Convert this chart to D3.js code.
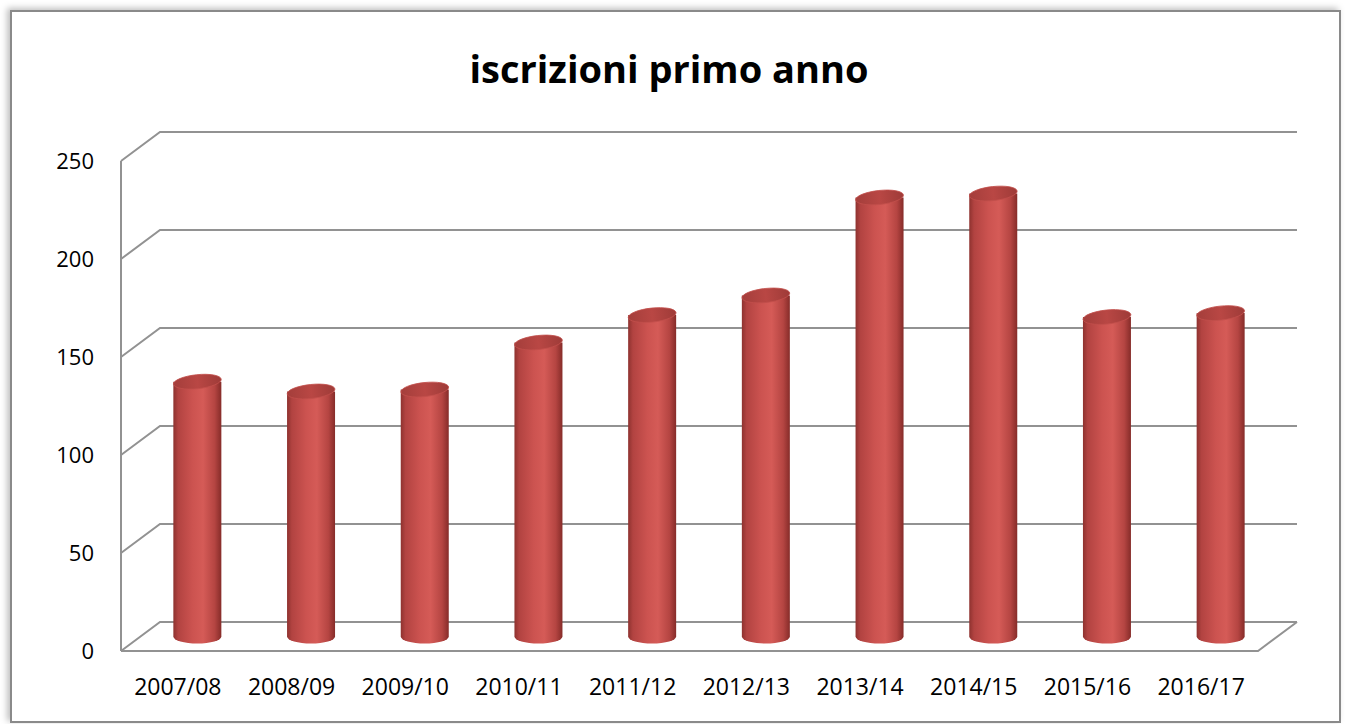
<!DOCTYPE html>
<html>
<head>
<meta charset="utf-8">
<script src="https://cdn.jsdelivr.net/npm/d3@7"></script>
<style>
  html, body { margin: 0; padding: 0; background: #fff; }
  svg { display: block; }
</style>
</head>
<body>
<svg id="chart" width="1346" height="724"></svg>
<script>
// ── Data ─────────────────────────────────────────────────────────────────────
const years  = ['2007/08', '2008/09', '2009/10', '2010/11', '2011/12',
                '2012/13', '2013/14', '2014/15', '2015/16', '2016/17'];
const values = [130, 125, 126, 150, 164, 174, 224, 226, 163, 165];
const yTicks = [0, 50, 100, 150, 200, 250];
const title  = 'iscrizioni primo anno';

// ── Layout ───────────────────────────────────────────────────────────────────
const FONT = '"Open Sans", sans-serif';
const depth = { dx: 39, dy: -29 };          // offset front -> back wall
const front = { left: 121, right: 1258, top: 161, bottom: 651 };
const barW = 48;
const gridColor = '#929292';

const svg = d3.select('#chart');
const defs = svg.append('defs');

// soft frame shadow
const sh = defs.append('filter').attr('id', 'shadow')
  .attr('x', '-5%').attr('y', '-5%').attr('width', '110%').attr('height', '110%');
sh.append('feDropShadow').attr('dx', -3).attr('dy', -2)
  .attr('stdDeviation', 3).attr('flood-color', '#000').attr('flood-opacity', 0.25);

// cylinder side gradient
const side = defs.append('linearGradient').attr('id', 'cyl')
  .attr('x1', '0%').attr('x2', '100%');
[['0%', '#8e322f'], ['10%', '#b24341'], ['40%', '#cc5350'], ['62%', '#d55b57'],
 ['86%', '#b54542'], ['100%', '#862c29']].forEach(([o, c]) =>
  side.append('stop').attr('offset', o).attr('stop-color', c));

const topG = defs.append('linearGradient').attr('id', 'cylTop')
  .attr('x1', '0%').attr('x2', '100%');
[['0%', '#a43e3b'], ['50%', '#b94744'], ['100%', '#9e3b38']].forEach(([o, c]) =>
  topG.append('stop').attr('offset', o).attr('stop-color', c));

// ── Frame ────────────────────────────────────────────────────────────────────
svg.append('rect')
  .attr('x', 11).attr('y', 11).attr('width', 1329).attr('height', 711)
  .attr('fill', '#fff').attr('stroke', '#8a8a8a').attr('stroke-width', 2)
  .attr('filter', 'url(#shadow)');

// ── Scales ───────────────────────────────────────────────────────────────────
const x = d3.scaleBand().domain(years).range([front.left, front.right]);
const y = d3.scaleLinear().domain([0, 250]).range([front.bottom, front.top]);

// ── Gridlines (back wall + left side wall) ───────────────────────────────────
const grid = svg.append('g').attr('stroke', gridColor).attr('stroke-width', 2)
  .attr('fill', 'none');

yTicks.forEach(t => {
  const yf = y(t), yb = y(t) + depth.dy;
  grid.append('path')
    .attr('d', `M${front.left},${yf} L${front.left + depth.dx},${yb} L${front.right + depth.dx},${yb}`);
});

// floor
grid.append('path')
  .attr('d', `M${front.left},${y(0)} L${front.right},${y(0)} L${front.right + depth.dx},${y(0) + depth.dy}`);

// left axis line
grid.append('line')
  .attr('x1', front.left).attr('x2', front.left)
  .attr('y1', y(250)).attr('y2', y(0));

// ── Y labels ─────────────────────────────────────────────────────────────────
svg.append('g').selectAll('text')
  .data(yTicks)
  .join('text')
    .attr('x', 94)
    .attr('y', d => y(d))
    .attr('dy', '0.35em')
    .attr('text-anchor', 'end')
    .attr('font-family', FONT)
    .attr('font-size', '22px')
    .attr('fill', '#000')
    .text(d => d);

// ── X labels ─────────────────────────────────────────────────────────────────
svg.append('g').selectAll('text')
  .data(years)
  .join('text')
    .attr('x', d => x(d) + x.bandwidth() / 2)
    .attr('y', 695)
    .attr('text-anchor', 'middle')
    .attr('font-family', FONT)
    .attr('font-size', '23px')
    .attr('fill', '#000')
    .text(d => d);

// ── Cylinders ────────────────────────────────────────────────────────────────
const ry = 7, tilt = -6;
const bars = svg.append('g').selectAll('g')
  .data(years.map((yr, i) => ({ yr, v: values[i] })))
  .join('g')
    .attr('transform', d =>
      `translate(${x(d.yr) + x.bandwidth() / 2 + depth.dx / 2},${depth.dy / 2})`);

bars.append('path')
  .attr('fill', 'url(#cyl)')
  .attr('d', d => {
    const y0 = y(0), y1 = y(d.v), r = barW / 2;
    return `M${-r},${y1} L${-r},${y0} A${r},${ry} 0 0 0 ${r},${y0} L${r},${y1} Z`;
  });

bars.append('ellipse')
  .attr('cx', 0).attr('cy', d => y(d.v))
  .attr('rx', barW / 2).attr('ry', ry)
  .attr('transform', d => `rotate(${tilt},0,${y(d.v)})`)
  .attr('fill', 'url(#cylTop)')
  .attr('stroke', '#c24f4c').attr('stroke-width', 0.8);

// ── Title ────────────────────────────────────────────────────────────────────
svg.append('text')
  .attr('x', 669).attr('y', 83)
  .attr('text-anchor', 'middle')
  .attr('font-family', FONT)
  .attr('font-weight', 700)
  .attr('font-size', '38px')
  .attr('fill', '#000')
  .text(title);
</script>
</body>
</html>
